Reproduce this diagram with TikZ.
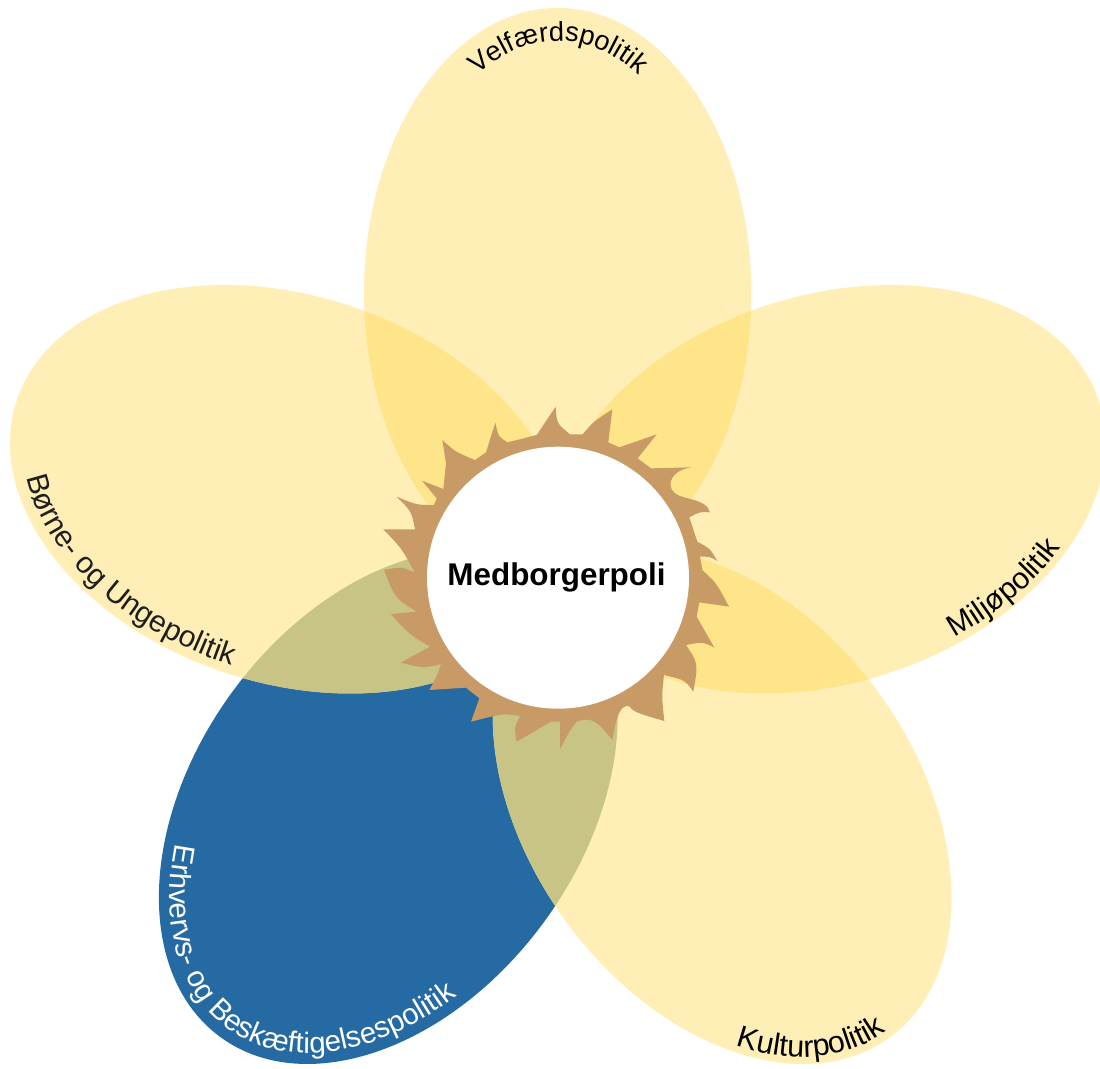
\documentclass[tikz,border=0pt]{standalone}
\usepackage{fontspec}
\setmainfont{Liberation Sans}
\usetikzlibrary{decorations.text}
\definecolor{petal}{HTML}{FFEEB5}
\definecolor{petalblue}{HTML}{256AA3}
\definecolor{overlapy}{HTML}{FFE58A}
\definecolor{overlapb}{HTML}{C8C486}
\definecolor{sunbrown}{HTML}{C89B66}
\definecolor{softblack}{HTML}{1E1E1E}
% #1 angle, #2 horizontal shift
\newcommand{\petalpath}[2]{[xshift=#2pt,rotate around={-#1:(557.7,577)}] (557.7,293) ellipse [x radius=193.7pt,y radius=285pt]}
\newcommand{\overlapfill}[5]{\begin{scope}\clip \petalpath{#1}{#2};\fill[#5] \petalpath{#3}{#4};\end{scope}}
% #1 angle, #2 shift, #3 domain, #4 text, #5 colour, #6 size, #7 #8 radii of the baseline
\newcommand{\curvedlabel}[8]{%
  \path[xshift=#2pt,decorate,decoration={text along path,text align=left,text={|\fontsize{#6}{#6}\selectfont\color{#5}|#4}}]
   plot[domain=#3,samples=90,variable=\pa]
   ({558+(#7*cos(\pa))*cos(#1)+(284+#8*sin(\pa))*sin(#1)},
    {577+(#7*cos(\pa))*sin(#1)-(284+#8*sin(\pa))*cos(#1)});}
\begin{document}
\begin{tikzpicture}[x=1pt,y=-1pt]
\useasboundingbox (0,0) rectangle (1100,1068);
\fill[white] (0,0) rectangle (1100,1068);
\clip (0,0) rectangle (1100,1068);
\fill[petalblue] \petalpath{216}{-2.5};
\fill[petal] \petalpath{0}{0};
\fill[petal] \petalpath{72}{0};
\fill[petal] \petalpath{144}{-2.5};
\fill[petal] \petalpath{288}{0};
\overlapfill{0}{0}{72}{0}{overlapy}
\overlapfill{72}{0}{144}{-2.5}{overlapy}
\overlapfill{0}{0}{288}{0}{overlapy}
\overlapfill{216}{-2.5}{144}{-2.5}{overlapb}
\overlapfill{216}{-2.5}{288}{0}{overlapb}
% sun
\begin{scope}[shift={(360,390)},x=0.33333pt,y=-0.33333pt]
\fill[sunbrown] (530,135) -- (587,50) .. controls (590,100) .. (630,133) -- (668,133)
 .. controls (700,95) .. (757,58) -- (745,157) -- (778,172) -- (890,133) -- (833,205) -- (873,235)
 -- (995,232) .. controls (935,240) and (915,285) .. (945,310) .. controls (970,330) and (1040,325) .. (1050,367)
 .. controls (1020,365) .. (988,382) -- (1012,455) .. controls (1050,475) .. (1072,513)
 .. controls (1050,500) .. (1020,500) -- (1027,540) .. controls (1070,580) .. (1107,650)
 -- (1018,637) -- (1010,680) -- (1063,773) .. controls (1030,755) .. (978,765)
 .. controls (1015,820) .. (1000,905) .. controls (975,870) .. (912,855) .. controls (905,920) .. (913,993)
 .. controls (850,975) and (815,965) .. (810,950) .. controls (785,940) and (770,970) .. (757,1050)
 .. controls (720,1005) and (700,975) .. (650,995) .. controls (630,1020) .. (600,1078) -- (600,995) -- (573,995)
 -- (470,1055) .. controls (462,1015) .. (480,978) .. controls (430,970) .. (333,995) -- (358,925) -- (318,893)
 -- (208,900) .. controls (230,860) .. (243,822) .. controls (190,835) .. (122,818) -- (210,770)
 .. controls (150,735) .. (92,672) -- (170,665) .. controls (105,625) .. (72,540) .. controls (125,530) .. (165,548)
 .. controls (125,475) .. (70,418) -- (165,418) .. controls (155,365) .. (110,320) .. controls (170,345) .. (222,345)
 -- (230,325) -- (186,272) -- (250,297) -- (258,220) -- (247,150) .. controls (285,185) .. (345,210) -- (378,187)
 -- (406,98) .. controls (415,140) .. (443,157) -- cycle;
\end{scope}
\node[circle,fill=white,minimum size=262pt,inner sep=0pt] (hub) at (558,577.7) {};
\node[anchor=base,inner sep=0pt,font=\bfseries\fontsize{31.4}{31.4}\selectfont] (hubtext) at (556.5,585.7) {Medborgerpoli};
% labels
\curvedlabel{0}{0}{120:40}{Velfærdspolitik}{black}{27.3}{161}{252}
\curvedlabel{72}{0}{15.5:62}{Miljøpolitik}{black}{30}{187}{278}
\curvedlabel{144}{-2.5}{46.2:110}{Kulturpolitik}{black}{30.5}{187}{278}
\curvedlabel{216}{-2.5}{34.5:180}{Erhvervs- og Beskæftigelsespolitik}{white}{29.5}{183}{274}
\curvedlabel{288}{0}{112:200}{Børne- og Ungepolitik}{softblack}{30}{185}{272}
\end{tikzpicture}
\end{document}
